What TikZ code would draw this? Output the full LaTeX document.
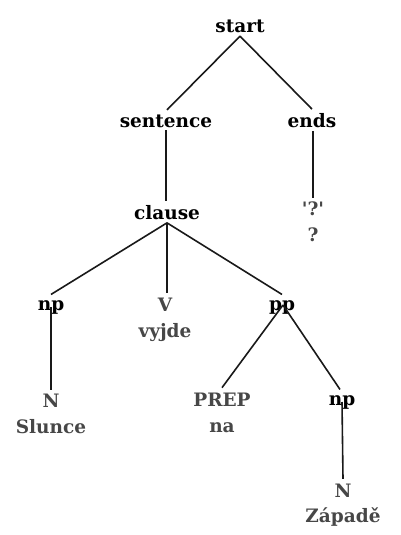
\documentclass[tikz,border=0pt]{standalone}
\usepackage{fontspec}
\setmainfont{DejaVu Serif}
\begin{document}
\begin{tikzpicture}[x=1pt,y=-1pt,
  cat/.style={font=\fontsize{18.5}{25.5}\selectfont\bfseries, inner sep=1.5pt, text=black},
  term/.style={font=\fontsize{18.5}{25.5}\selectfont\bfseries, inner sep=1.5pt, text=black!72, align=center},
  edge/.style={line width=1.6pt, black!90}]
\useasboundingbox (0,0) rectangle (401,535);
\node[cat] (start) at (240,26) {start};
\node[cat] (sentence) at (166,121) {sentence};
\node[cat] (ends) at (312,121) {ends};
\node[cat] (clause) at (167,213) {clause};
\node[term] (q) at (313,222) {\textquotesingle?\textquotesingle\\?};
\node[cat] (np1) at (51,307) {np};
\node[term] (v) at (165,320) {V\\vyjde};
\node[cat] (pp) at (282,307) {pp};
\node[term] (n1) at (51,414) {N\\Slunce};
\node[term] (prep) at (222,413) {PREP\\na};
\node[cat] (np2) at (342,402) {np};
\node[term] (n2) at (343,505) {N\\Západě};
\draw[edge] ([yshift=-2pt]start.south) -- ([xshift=1pt,yshift=3pt]sentence.north);
\draw[edge] ([yshift=-2pt]start.south) -- ([yshift=3pt]ends.north);
\draw[edge] ([yshift=-1pt]sentence.south) -- ([yshift=3pt]sentence.south |- clause.north);
\draw[edge] ([xshift=1pt,yshift=-1pt]ends.south) -- ([yshift=3pt]q.north);
\draw[edge] ([yshift=-1pt]clause.south) -- ([yshift=4pt]np1.north);
\draw[edge] ([yshift=-1pt]clause.south) -- ([xshift=2pt,yshift=4pt]v.north);
\draw[edge] ([yshift=-1pt]clause.south) -- ([yshift=4pt]pp.north);
\draw[edge] (np1.center) -- ([yshift=3pt]n1.north);
\draw[edge] ([xshift=1pt,yshift=2pt]pp.center) -- ([yshift=4pt]prep.north);
\draw[edge] ([xshift=1pt,yshift=2pt]pp.center) -- ([xshift=-2pt,yshift=4pt]np2.north);
\draw[edge] (np2.center) -- ([yshift=3pt]n2.north);
\end{tikzpicture}
\end{document}
